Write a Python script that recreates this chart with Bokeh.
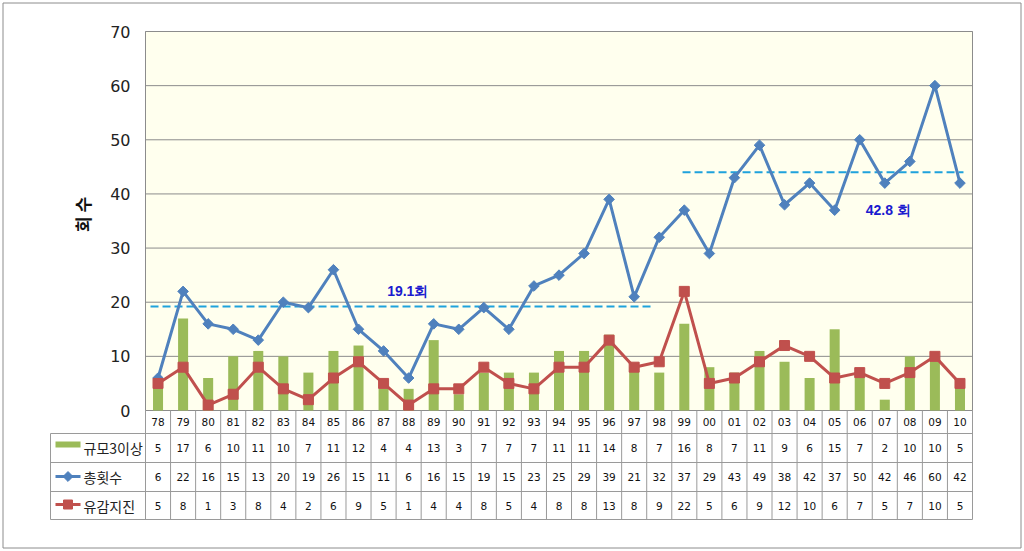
import math
from bokeh.plotting import figure
from bokeh.models import Range1d
from bokeh.core.properties import value
from bokeh.embed import file_html
from bokeh.resources import INLINE

# ---------------- data ----------------
years = ["78", "79", "80", "81", "82", "83", "84", "85", "86", "87", "88",
         "89", "90", "91", "92", "93", "94", "95", "96", "97", "98", "99",
         "00", "01", "02", "03", "04", "05", "06", "07", "08", "09", "10"]
big3 = [5, 17, 6, 10, 11, 10, 7, 11, 12, 4, 4, 13, 3, 7, 7, 7, 11, 11, 14, 8,
        7, 16, 8, 7, 11, 9, 6, 15, 7, 2, 10, 10, 5]
total = [6, 22, 16, 15, 13, 20, 19, 26, 15, 11, 6, 16, 15, 19, 15, 23, 25, 29,
         39, 21, 32, 37, 29, 43, 49, 38, 42, 37, 50, 42, 46, 60, 42]
felt = [5, 8, 1, 3, 8, 4, 2, 6, 9, 5, 1, 4, 4, 8, 5, 4, 8, 8, 13, 8, 9, 22, 5,
        6, 9, 12, 10, 6, 7, 5, 7, 10, 5]
series_names = ["규모3이상", "총횟수", "유감지진"]
avg_levels = [19.2, 44.0]
avg_labels = ["19.1회", "42.8 회"]
avg_from = ["78", "99"]
avg_to = ["98", "10"]
y_ticks = [0, 10, 20, 30, 40, 50, 60, 70]
y_title = "회   수"

GREEN = "#9BBB59"
BLUE = "#4F81BD"
RED = "#C0504D"
DASH = "#1FA2DC"
GRID = "#8C8C8C"
TABLE = "#9A9A9A"
BG = "#FFFFEE"

n = len(years)
xs = list(range(n))
W, H = 1022, 549
YMAX = 70
# layout: plot area spans pixels 145..972 horizontally, 31..410 vertically
ppx = 827 / n
ppy = 379 / YMAX


def X(px):
    return (px - 145) / ppx - 0.5


def Y(py):
    return (410 - py) / ppy


p = figure(width=W, height=H, output_backend="svg", toolbar_location=None,
           x_range=Range1d(X(0), X(W)), y_range=Range1d(Y(H), Y(0)),
           x_axis_location=None, y_axis_location=None, min_border=0)
p.outline_line_color = None
p.background_fill_color = "white"
p.border_fill_color = "white"
p.grid.visible = False

# outer border
p.quad(left=[X(2.5)], right=[X(1020.5)], top=[Y(2.5)], bottom=[Y(547.5)],
       fill_color=None, line_color=GRID, line_width=1)

# plot area
x_lo, x_hi = -0.5, n - 0.5
p.quad(left=[x_lo], right=[x_hi], bottom=[0], top=[YMAX], fill_color=BG,
       line_color=GRID, line_width=1)
p.segment(x0=[x_lo] * len(y_ticks), y0=y_ticks, x1=[x_hi] * len(y_ticks),
          y1=y_ticks, line_color=GRID, line_width=1)
p.text(x=[x_lo] * len(y_ticks), y=y_ticks, text=[str(v) for v in y_ticks],
       x_offset=-15, text_align="right", text_baseline="middle",
       text_font=value("DejaVu Sans"), text_font_size="16px",
       text_color="#222222")
p.text(x=[X(82)], y=[Y(210)], text=[y_title], angle=math.pi / 2,
       text_align="center", text_baseline="middle",
       text_font=value("Noto Sans CJK KR"), text_font_style="bold",
       text_font_size="17px", text_color="#111111")

p.vbar(x=xs, top=big3, bottom=0, width=0.4, fill_color=GREEN, line_color=None)

# average dashed lines
x0s = [years.index(avg_from[0]) - 0.3, years.index(avg_from[1]) - 0.07]
x1s = [years.index(avg_to[0]) - 0.27, years.index(avg_to[1]) + 0.14]
p.segment(x0=x0s, y0=avg_levels, x1=x1s, y1=avg_levels, line_color=DASH,
          line_width=2, line_dash="8 4")

p.line(xs, total, line_color=BLUE, line_width=3)
p.scatter(xs, total, marker="square", angle=math.pi / 4, size=7.5,
          fill_color=BLUE, line_color=BLUE)
p.line(xs, felt, line_color=RED, line_width=3)
p.scatter(xs, felt, marker="square", size=10, fill_color=RED, line_color=RED)

lab_x = [(x0s[0] + x1s[0]) / 2 + 0.25, x1s[1] - 3.0]
p.text(x=lab_x, y=avg_levels, text=avg_labels, text_align="center",
       text_baseline="middle", y_offset=[-16, 38],
       text_font=value("Liberation Sans"), text_font_style="bold",
       text_font_size="14px", text_color="#1A1ACF")

# ---------------- data table ----------------
leg_left = X(50)
row_edges = [Y(433), Y(462), Y(491), Y(519)]
row_mid = [(row_edges[i] + row_edges[i + 1]) / 2 for i in range(3)]
cat_mid = (0 + row_edges[0]) / 2
p.segment(x0=[leg_left] * 4, y0=row_edges, x1=[x_hi] * 4, y1=row_edges,
          line_color=TABLE, line_width=1)
vx = [i - 0.5 for i in range(n + 1)]
p.segment(x0=vx, y0=[0] * len(vx), x1=vx, y1=[row_edges[-1]] * len(vx),
          line_color=TABLE, line_width=1)
p.segment(x0=[leg_left], y0=[row_edges[0]], x1=[leg_left],
          y1=[row_edges[-1]], line_color=TABLE, line_width=1)

num_font = value("DejaVu Sans")
p.text(x=xs, y=[cat_mid] * n, text=years, text_align="center",
       text_baseline="middle", text_font=num_font, text_font_size="10.5px",
       text_color="#111111")
for vals, ym in zip([big3, total, felt], row_mid):
    p.text(x=xs, y=[ym] * n, text=[str(v) for v in vals], text_align="center",
           text_baseline="middle", text_font=num_font,
           text_font_size="10.5px", text_color="#111111")

# legend keys inside the table
kx0, kx1 = X(55), X(80)
kxm = (kx0 + kx1) / 2
ky = [Y(444), Y(476), Y(504)]
p.quad(left=[kx0], right=[kx1], bottom=[Y(447)], top=[Y(441)],
       fill_color=GREEN, line_color=None)
p.segment(x0=[kx0, kx0], y0=ky[1:], x1=[kx1, kx1], y1=ky[1:],
          line_color=[BLUE, RED], line_width=3)
p.scatter(x=[kxm], y=[ky[1]], marker="square", angle=math.pi / 4, size=7,
          fill_color=BLUE, line_color=BLUE)
p.scatter(x=[kxm], y=[ky[2]], marker="square", size=9, fill_color=RED,
          line_color=RED)
p.text(x=[X(83)] * 3, y=row_mid, text=series_names, text_align="left",
       text_baseline="middle", text_font=value("Noto Sans CJK KR"),
       text_font_size="14px", text_color="#222222")

open("out.html", "w").write(file_html(p, INLINE))
